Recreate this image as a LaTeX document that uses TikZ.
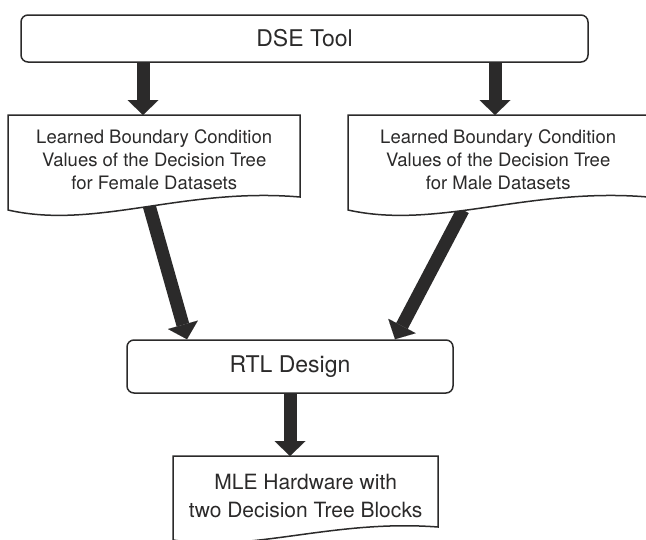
\documentclass[tikz,border=0pt]{standalone}
\usepackage{fontspec}
\setmainfont{TeX Gyre Heros}
\usetikzlibrary{arrows.meta,backgrounds}
\definecolor{ink}{HTML}{2B2A2A}
\begin{document}
\begin{tikzpicture}[x=1pt,y=-1pt,
  roundbox/.style={draw=ink,line width=1.5pt,rounded corners=7pt,fill=white,text=ink,inner sep=0pt},
  doctext/.style={align=center,text=ink,inner sep=0pt,anchor=north west},
  docline/.style={draw=ink,line width=1.5pt,fill=white},
  bigarrow/.style={draw=ink,line width=13pt,-{Triangle[length=15pt,width=31pt,line width=0.01pt]},ink}
]
\useasboundingbox (0,0) rectangle (646,539);
\clip (0,0) rectangle (646,539);

\node[roundbox,minimum width=567pt,minimum height=47pt,font=\fontsize{23}{27}\selectfont] (dse) at (304.5,38.5) {DSE Tool};
\node[doctext,minimum width=292pt,minimum height=90pt,font=\fontsize{18.5}{23}\selectfont] (fem) at (8,115)
  {Learned Boundary Condition\\Values of the Decision Tree\\for Female Datasets};
\node[doctext,minimum width=300pt,minimum height=90pt,font=\fontsize{18.5}{23}\selectfont] (male) at (348,115)
  {Learned Boundary Condition\\Values of the Decision Tree\\for Male Datasets};
\node[roundbox,minimum width=326pt,minimum height=53pt,font=\fontsize{23}{27}\selectfont] (rtl) at (290,366.5) {RTL Design};
\node[doctext,minimum width=265pt,minimum height=80pt,font=\fontsize{21}{28}\selectfont] (mle) at (173,456)
  {MLE Hardware with\\two Decision Tree Blocks};

\coordinate (c1) at (143,0);
\coordinate (c2) at (495,0);
\coordinate (fout) at (149,205);
\coordinate (mout) at (463,210);
\coordinate (r1) at (187,0);
\coordinate (r2) at (395,0);
\coordinate (c3) at (290,0);

\begin{pgfonlayer}{background}
  \draw[bigarrow] (c1 |- dse.south) -- (c1 |- fem.north);
  \draw[bigarrow] (c2 |- dse.south) -- (c2 |- male.north);
  \draw[bigarrow] (fout) -- (r1 |- rtl.north);
  \draw[bigarrow] (mout) -- (r2 |- rtl.north);
  \draw[bigarrow] (c3 |- rtl.south) -- (c3 |- mle.north);
  % document outlines
  \draw[docline] (8,210) -- (8,115) -- (300,115) -- (300,197)
     .. controls (183.2,187) and (95.6,230) .. (8,210) -- cycle;
  \draw[docline] (348,210) -- (348,115) -- (648,115) -- (648,197)
     .. controls (528,187) and (438,230) .. (348,210) -- cycle;
  \draw[docline] (173,545) -- (173,456) -- (438,456) -- (438,527)
     .. controls (332,519) and (252.5,553) .. (173,540) -- cycle;
\end{pgfonlayer}
\end{tikzpicture}
\end{document}
